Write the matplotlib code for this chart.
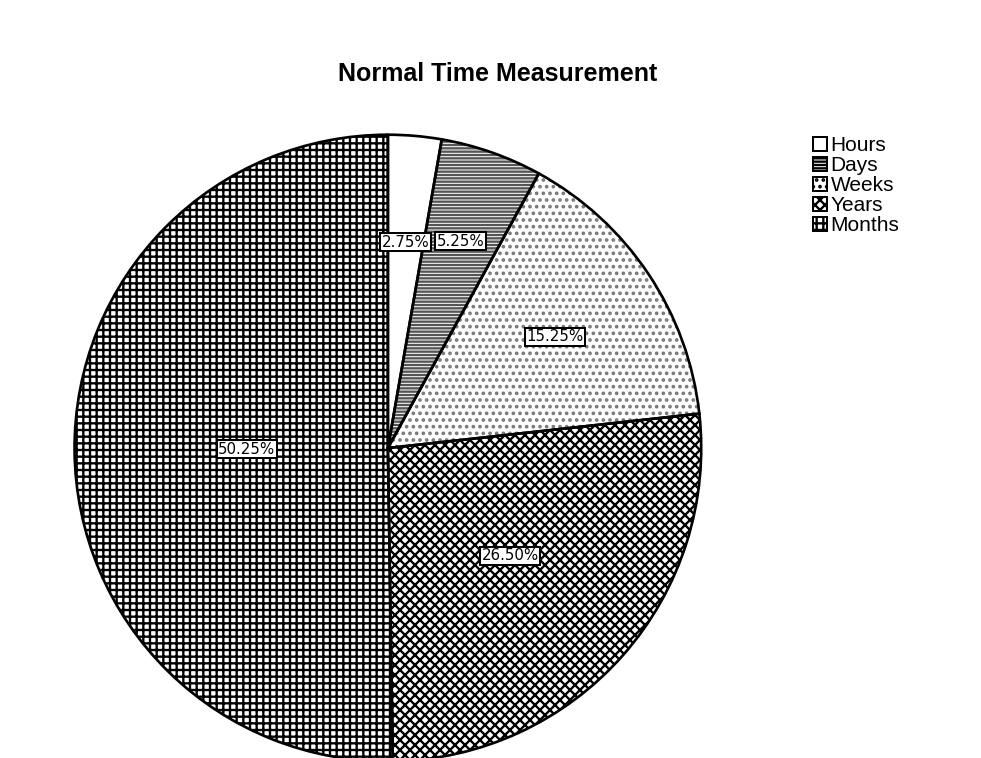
import numpy as np
import matplotlib.pyplot as plt

plt.rcParams['hatch.linewidth'] = 1.4

categories = ['Hours', 'Days', 'Weeks', 'Years', 'Months']
shares = [2.75, 5.25, 15.25, 26.50, 50.25]
pct_labels = ['2.75%', '5.25%', '15.25%', '26.50%', '50.25%']
hatches = ['', '------', '...', 'xxxx', '+++']
hatch_colors = ['black', '#555555', '#777777', 'black', 'black']
label_dist = [0.66, 0.70, 0.64, 0.52, 0.45]

fig = plt.figure(figsize=(981 / 120, 758 / 120), dpi=120)
ax = fig.add_axes([0.0744, -0.0066, 0.642, 0.831])

# hatched fills (hatch colour follows the edge colour)
wedges, _ = ax.pie(shares, startangle=90, counterclock=False, colors=['white'] * 5,
                   wedgeprops=dict(linewidth=0))
for w, h, c in zip(wedges, hatches, hatch_colors):
    w.set_hatch(h)
    w.set_edgecolor(c)
# black outlines on top
ax.pie(shares, startangle=90, counterclock=False,
       wedgeprops=dict(facecolor='none', edgecolor='black', linewidth=1.6))

# percentage boxes inside the slices
for w, lab, d in zip(wedges, pct_labels, label_dist):
    mid = np.deg2rad((w.theta1 + w.theta2) / 2)
    ax.text(d * np.cos(mid), d * np.sin(mid), lab, ha='center', va='center',
            fontsize=9, family='DejaVu Sans',
            bbox=dict(boxstyle='square,pad=0.1', fc='white', ec='black', lw=1.2))
ax.set_xlim(-1.005, 1.005)
ax.set_ylim(-1.005, 1.005)
ax.set_aspect('equal')

fig.text(0.507, 0.903, 'Normal Time Measurement', ha='center', va='center',
         fontsize=15, fontweight='bold', family='Liberation Sans')

leg = fig.legend(wedges, categories, loc='upper left', bbox_to_anchor=(0.818, 0.834),
                 frameon=False, prop={'family': 'Liberation Sans', 'size': 12.5},
                 handlelength=0.7, handleheight=0.7, handletextpad=0.15,
                 labelspacing=0.05, borderpad=0)
for p in leg.get_patches():
    p.set_edgecolor('black')
    p.set_linewidth(1.2)

fig.savefig('out.png', dpi=120)
